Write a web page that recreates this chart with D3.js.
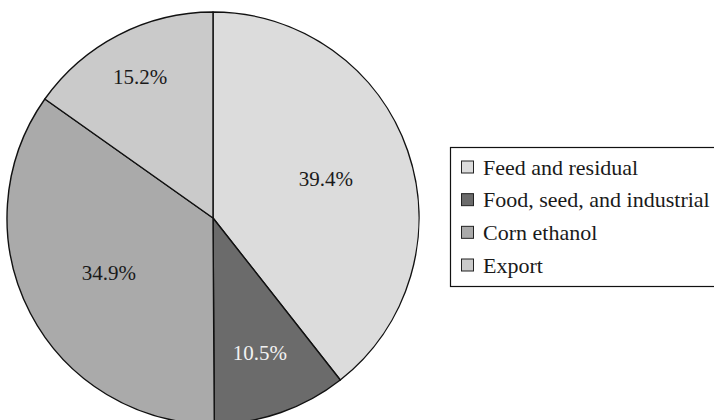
<!DOCTYPE html>
<html><head><meta charset="utf-8">
<script src="https://cdn.jsdelivr.net/npm/d3@7"></script>
<style>html,body{margin:0;padding:0;background:#fff;overflow:hidden}
svg text{font-family:"Liberation Serif","Times New Roman",serif;}</style>
</head><body>
<svg id="chart" width="714" height="420"></svg>
<script>
const categories = ["Feed and residual", "Food, seed, and industrial", "Corn ethanol", "Export"];
const values = [39.4, 10.5, 34.9, 15.2];
const labels = ["39.4%", "10.5%", "34.9%", "15.2%"];

const colors = ["#dcdcdc", "#6b6b6b", "#aaaaaa", "#cacaca"];
const labelColors = ["#1a1a1a", "#f2f2f2", "#1a1a1a", "#1a1a1a"];
const labelRadiusFrac = [0.58, 0.69, 0.57, 0.77];

const svg = d3.select("#chart");
const cx = 213, cy = 218, R = 206;

const data = categories.map((c, i) => ({cat: c, value: values[i], label: labels[i], i}));
const pie = d3.pie().value(d => d.value).sort(null).startAngle(0).endAngle(2 * Math.PI);
const arcs = pie(data);
const arc = d3.arc().innerRadius(0).outerRadius(R);

const g = svg.append("g").attr("transform", `translate(${cx},${cy})`);
g.selectAll("path").data(arcs).enter().append("path")
  .attr("d", arc)
  .attr("fill", d => colors[d.data.i])
  .attr("stroke", "#111")
  .attr("stroke-width", 1.4)
  .attr("stroke-linejoin", "round");

g.selectAll("text.lbl").data(arcs).enter().append("text")
  .attr("class", "lbl")
  .attr("transform", d => {
    const r = R * labelRadiusFrac[d.data.i];
    const la = d3.arc().innerRadius(r).outerRadius(r);
    const [x, y] = la.centroid(d);
    return `translate(${x},${y})`;
  })
  .attr("text-anchor", "middle")
  .attr("dy", "0.35em")
  .style("font-size", "21px")
  .attr("fill", d => labelColors[d.data.i])
  .text(d => d.data.label);

// Legend
const lg = svg.append("g");
lg.append("rect").attr("x", 450.5).attr("y", 147.5).attr("width", 270).attr("height", 139)
  .attr("fill", "#fff").attr("stroke", "#111").attr("stroke-width", 1.2);
const ly = d3.scalePoint().domain(categories).range([167, 265]);
const items = lg.selectAll("g.item").data(data).enter().append("g").attr("class", "item")
  .attr("transform", d => `translate(461,${ly(d.cat)})`);
items.append("rect").attr("x", 0.5).attr("y", -6).attr("width", 12).attr("height", 12)
  .attr("fill", d => colors[d.i]).attr("stroke", "#222").attr("stroke-width", 1);
items.append("text").attr("x", 22).attr("y", 0).attr("dy", "0.35em")
  .style("font-size", "22px").attr("fill", "#1a1a1a")
  .text(d => d.cat);
</script>
</body></html>
